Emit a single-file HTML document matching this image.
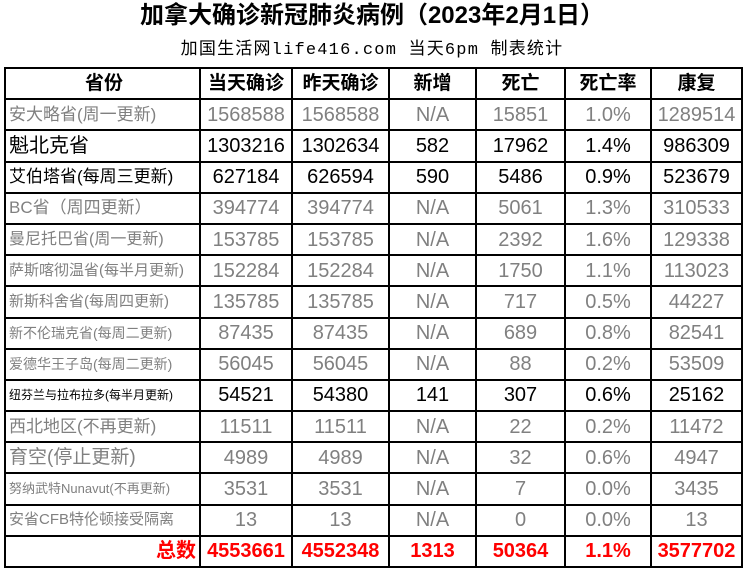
<!DOCTYPE html>
<html><head><meta charset="utf-8"><style>
body{margin:0;width:744px;height:571px;background:#fff;overflow:hidden;position:relative;font-family:"Liberation Sans","Noto Sans CJK SC",sans-serif}
.t{position:absolute;left:0;width:744px;text-align:center;top:0;font-size:24px;font-weight:bold;line-height:32px}
.s{position:absolute;left:0;width:744px;text-align:center;top:39px;font-size:17px;line-height:24px;letter-spacing:1.2px;font-family:"Liberation Mono","Noto Sans CJK SC",monospace}
table{position:absolute;left:4px;top:67px;border-collapse:collapse;table-layout:fixed}
td{border:2px solid #000;height:29.2px;padding:0;text-align:center;font-size:20px;white-space:nowrap;overflow:hidden;line-height:28px}
td:first-child{text-align:left;padding-left:3px;font-size:17px}
tr.h td{font-weight:bold;font-size:19px;text-align:center}
.g td{color:#808080}
.k td{color:#000}
.r td{color:#f00;font-weight:bold}
</style></head><body>
<div class="t">加拿大确诊新冠肺炎病例（2023年2月1日）</div>
<div class="s">加国生活网life416.com 当天6pm 制表统计</div>
<table>
<colgroup><col style="width:195px"><col style="width:92px"><col style="width:97px"><col style="width:87px"><col style="width:89px"><col style="width:86px"><col style="width:91px"></colgroup>
<tr class="h"><td>省份</td><td>当天确诊</td><td>昨天确诊</td><td>新增</td><td>死亡</td><td>死亡率</td><td>康复</td></tr>
<tr class="g"><td>安大略省(周一更新)</td><td>1568588</td><td>1568588</td><td>N/A</td><td>15851</td><td>1.0%</td><td>1289514</td></tr>
<tr class="k"><td style="font-size:20px">魁北克省</td><td>1303216</td><td>1302634</td><td>582</td><td>17962</td><td>1.4%</td><td>986309</td></tr>
<tr class="k"><td style="font-size:17px">艾伯塔省(每周三更新)</td><td>627184</td><td>626594</td><td>590</td><td>5486</td><td>0.9%</td><td>523679</td></tr>
<tr class="g"><td>BC省（周四更新）</td><td>394774</td><td>394774</td><td>N/A</td><td>5061</td><td>1.3%</td><td>310533</td></tr>
<tr class="g"><td style="font-size:16px">曼尼托巴省(周一更新)</td><td>153785</td><td>153785</td><td>N/A</td><td>2392</td><td>1.6%</td><td>129338</td></tr>
<tr class="g"><td style="font-size:15px">萨斯喀彻温省(每半月更新)</td><td>152284</td><td>152284</td><td>N/A</td><td>1750</td><td>1.1%</td><td>113023</td></tr>
<tr class="g"><td style="font-size:15px">新斯科舍省(每周四更新)</td><td>135785</td><td>135785</td><td>N/A</td><td>717</td><td>0.5%</td><td>44227</td></tr>
<tr class="g"><td style="font-size:14px">新不伦瑞克省(每周二更新)</td><td>87435</td><td>87435</td><td>N/A</td><td>689</td><td>0.8%</td><td>82541</td></tr>
<tr class="g"><td style="font-size:14px">爱德华王子岛(每周二更新)</td><td>56045</td><td>56045</td><td>N/A</td><td>88</td><td>0.2%</td><td>53509</td></tr>
<tr class="k"><td style="font-size:12px">纽芬兰与拉布拉多(每半月更新)</td><td>54521</td><td>54380</td><td>141</td><td>307</td><td>0.6%</td><td>25162</td></tr>
<tr class="g"><td>西北地区(不再更新)</td><td>11511</td><td>11511</td><td>N/A</td><td>22</td><td>0.2%</td><td>11472</td></tr>
<tr class="g"><td style="font-size:19px">育空(停止更新)</td><td>4989</td><td>4989</td><td>N/A</td><td>32</td><td>0.6%</td><td>4947</td></tr>
<tr class="g"><td style="font-size:13px">努纳武特Nunavut(不再更新)</td><td>3531</td><td>3531</td><td>N/A</td><td>7</td><td>0.0%</td><td>3435</td></tr>
<tr class="g"><td style="font-size:15px">安省CFB特伦顿接受隔离</td><td>13</td><td>13</td><td>N/A</td><td>0</td><td>0.0%</td><td>13</td></tr>
<tr class="r"><td style="text-align:right;padding-right:3px;font-size:20px">总数</td><td>4553661</td><td>4552348</td><td>1313</td><td>50364</td><td>1.1%</td><td>3577702</td></tr>
</table>
</body></html>
